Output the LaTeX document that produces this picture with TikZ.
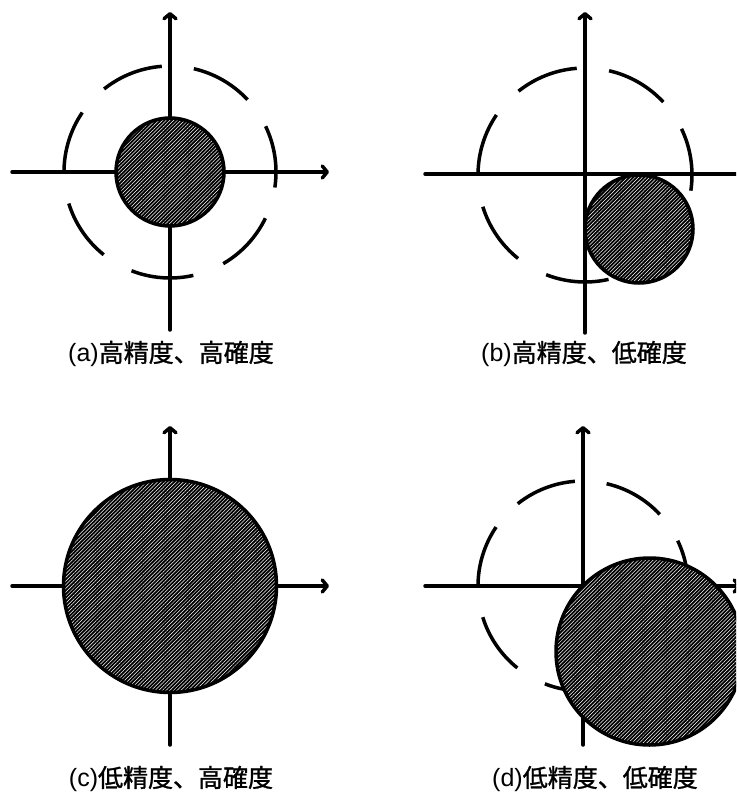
\documentclass[tikz,border=0pt]{standalone}
\usepackage{fontspec}
\newfontfamily\cjk{Noto Sans CJK JP}[BoldFont={Noto Sans CJK JP}, BoldFeatures={FakeBold=1.2}]
\newfontfamily\latn{Liberation Sans}
\newcommand\panelcap[2]{{\latn\mdseries(#1)}#2}
\usetikzlibrary{arrows.meta,patterns.meta}
\newcommand\dashring[2]{%
  \foreach \k in {0,...,6}{%
    \pgfmathsetmacro\sa{-77+\k*360/7}%
    \pgfmathsetmacro\ea{\sa+34}%
    \draw[ringdash] (#1) ++(\sa:#2) arc[start angle=\sa, end angle=\ea, radius=#2];
  }%
}
\begin{document}
\begin{tikzpicture}[x=1pt,y=-1pt,
  axisline/.style={line width=3.5pt, line cap=round, -{Straight Barb[length=5pt,width=12pt,round]}},
  ringdash/.style={line width=3.5pt, line cap=butt},
  hatched/.style={draw, line width=3.5pt, preaction={fill=black},
    pattern={Lines[angle=45,distance=2.6pt,line width=0.5pt]}, pattern color=white},
  caption/.style={font=\cjk\bfseries\fontsize{25}{30}\selectfont, inner sep=0pt}]
\clip (0,0) rectangle (736,794);
\fill[white] (0,0) rectangle (736,794);

% ---------- (a)
\coordinate (ca) at (170,172);
\coordinate (aL) at (12,172);  \coordinate (aR) at (329,172);
\coordinate (aB) at (170,330); \coordinate (aT) at (170,12);
\draw[axisline] (aL) -- (aR);
\draw[axisline] (aB) -- (aT);
\dashring{ca}{106}
\draw[hatched] (ca) circle[radius=54];
\node[caption] (la) at (171,354) {\panelcap{a}{高精度、高確度}};

% ---------- (b)
\coordinate (cb) at (585,175);
\coordinate (bL) at (425,174); \coordinate (bR) at (748,174);
\coordinate (bB) at (585,333); \coordinate (bT) at (585,12);
\draw[axisline] (bL) -- (bR);
\draw[axisline] (bB) -- (bT);
\dashring{cb}{107}
\coordinate (fb) at (639,229);
\draw[hatched] (fb) circle[radius=54];
\node[caption] (lb) at (584,354) {\panelcap{b}{高精度、低確度}};

% ---------- (c)
\coordinate (cc) at (170,586);
\coordinate (cL) at (12,586);  \coordinate (cR) at (329,586);
\coordinate (cB) at (170,745); \coordinate (cT) at (170,426);
\draw[axisline] (cL) -- (cR);
\draw[axisline] (cB) -- (cT);
\draw[hatched] (cc) circle[radius=106.5];
\node[caption] (lc) at (171,779) {\panelcap{c}{低精度、高確度}};

% ---------- (d)
\coordinate (cd) at (583,586);
\coordinate (dL) at (425,586); \coordinate (dR) at (741,586);
\coordinate (dB) at (583,745); \coordinate (dT) at (583,426);
\draw[axisline] (dL) -- (dR);
\draw[axisline] (dB) -- (dT);
\dashring{cd}{105}
\coordinate (fd) at (649.5,651.5);
\draw[hatched] (fd) circle[radius=93.5];
\node[caption] (ld) at (595,779) {\panelcap{d}{低精度、低確度}};
\end{tikzpicture}
\end{document}
